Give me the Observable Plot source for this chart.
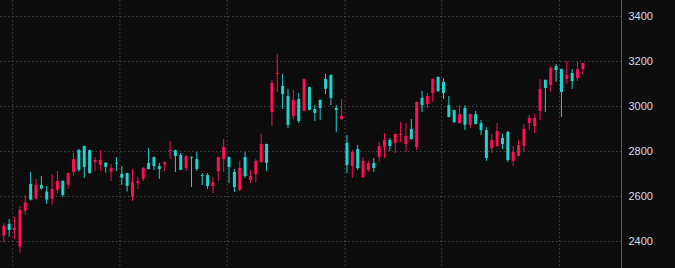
<!DOCTYPE html>
<html>
<head>
<meta charset="utf-8">
<script src="https://cdn.jsdelivr.net/npm/d3@7"></script>
<script src="https://cdn.jsdelivr.net/npm/@observablehq/plot@0.6"></script>
<style>
  html, body { margin: 0; padding: 0; background: #0c0c0c; }
  #chart svg { display: block; }
</style>
</head>
<body>
<div id="chart"></div>
<script>
const open  = [2424,2476,2449,2375,2535,2653,2588,2649,2620,2588,2628,2667,2650,2707,2804,2822,2804,2751,2738,2748,2708,2748,2698,2702,2597,2658,2676,2747,2773,2733,2742,2800,2804,2782,2724,2774,2764,2693,2693,2644,2711,2764,2773,2707,2627,2773,2671,2698,2751,2831,2973,3142,3089,3044,2956,3031,2978,3084,2987,3027,3120,3138,2991,2942,2836,2733,2809,2684,2716,2747,2773,2818,2849,2836,2871,2831,2898,2818,3036,3009,3058,3129,3107,3004,2982,2924,2991,2916,2964,2924,2893,2813,2822,2858,2884,2756,2778,2822,2924,2911,2978,3116,3093,3178,3164,3120,3147,3124,3164];
const high  = [2479,2498,2507,2556,2603,2707,2676,2689,2644,2698,2711,2669,2704,2792,2809,2824,2806,2773,2804,2750,2742,2773,2733,2704,2720,2684,2729,2813,2775,2747,2753,2844,2806,2791,2780,2775,2796,2702,2702,2684,2775,2853,2775,2720,2756,2796,2716,2764,2876,2833,3116,3231,3142,3076,3071,3058,3122,3086,3004,3029,3142,3140,3004,3031,2871,2804,2827,2773,2756,2769,2840,2880,2858,2878,2929,2924,2942,3020,3067,3058,3124,3131,3124,3044,2984,3004,3004,2966,2978,2938,2907,2876,2924,2876,2889,2822,2849,2920,2960,2964,3120,3118,3178,3187,3166,3200,3164,3196,3193];
const low   = [2394,2419,2409,2348,2516,2580,2585,2628,2564,2561,2613,2596,2632,2689,2707,2680,2700,2711,2711,2704,2667,2711,2649,2620,2578,2631,2667,2718,2716,2676,2711,2764,2707,2714,2711,2640,2711,2649,2631,2613,2667,2707,2658,2618,2622,2680,2658,2662,2747,2711,2911,3062,2987,2902,2942,2924,2976,2980,2933,2938,3053,3004,2884,2938,2702,2680,2716,2680,2707,2707,2751,2769,2800,2791,2840,2796,2851,2804,2973,2991,3018,3062,3031,2949,2924,2922,2893,2902,2918,2871,2756,2791,2818,2809,2751,2733,2776,2796,2893,2880,2938,2973,3062,3107,2951,3098,3076,3111,3138];
const close = [2467,2449,2458,2538,2572,2584,2649,2633,2584,2631,2667,2604,2702,2764,2716,2729,2702,2760,2760,2729,2724,2743,2681,2645,2662,2667,2724,2720,2733,2720,2751,2804,2778,2716,2778,2770,2720,2689,2644,2662,2773,2818,2729,2640,2724,2689,2689,2756,2831,2747,3102,3147,3053,2916,3027,2933,3120,2982,2969,2991,3076,3036,2982,2956,2738,2796,2724,2756,2747,2724,2822,2849,2822,2876,2876,2867,2853,3018,3004,3044,3120,3067,3058,2951,2929,2964,2916,2964,2920,2893,2769,2849,2889,2831,2760,2796,2827,2898,2947,2947,3076,3080,3169,3160,3062,3138,3111,3164,3191];

const yTicks = [2400, 2600, 2800, 3000, 3200, 3400];
const monthTicks = [1.65, 21.65, 41.65, 63.65, 81.65, 103.65];
const xDomain = [-0.62, 115.2];
const yDomain = [2280, 3471];

const upColor = "#ff0d57";
const downColor = "#1fd3cf";
const gridColor = "#4a4a4a";

const data = open.map((o, i) => ({
  i, o, h: high[i], l: low[i], c: close[i],
  col: close[i] >= o ? upColor : downColor
}));

const chart = Plot.plot({
  width: 675,
  height: 268,
  marginLeft: 0,
  marginRight: 54,
  marginTop: 0,
  marginBottom: 0,
  style: {
    background: "#0c0c0c",
    color: "#d8deea",
    fontFamily: "'Liberation Sans', Arial, sans-serif",
    fontSize: "11px"
  },
  x: { domain: xDomain, axis: null },
  y: { domain: yDomain, axis: null },
  color: { type: "identity" },
  marks: [
    Plot.ruleX(monthTicks, { stroke: gridColor, strokeDasharray: "1.5,2.5" }),
    Plot.ruleY(yTicks, { stroke: gridColor, strokeDasharray: "1.5,2.5" }),
    Plot.ruleX(data, { x: "i", y1: "l", y2: "h", stroke: "col", strokeWidth: 1 }),
    Plot.ruleX(data, { x: "i", y1: "o", y2: "c", stroke: "col", strokeWidth: 3 }),
    Plot.ruleX([xDomain[1]], { stroke: "#5e5e5e" }),
    Plot.axisY(yTicks, { anchor: "right", tickSize: 0, tickPadding: 7, label: null, tickFormat: d => String(d) })
  ]
});
document.getElementById("chart").append(chart);
</script>
</body>
</html>
